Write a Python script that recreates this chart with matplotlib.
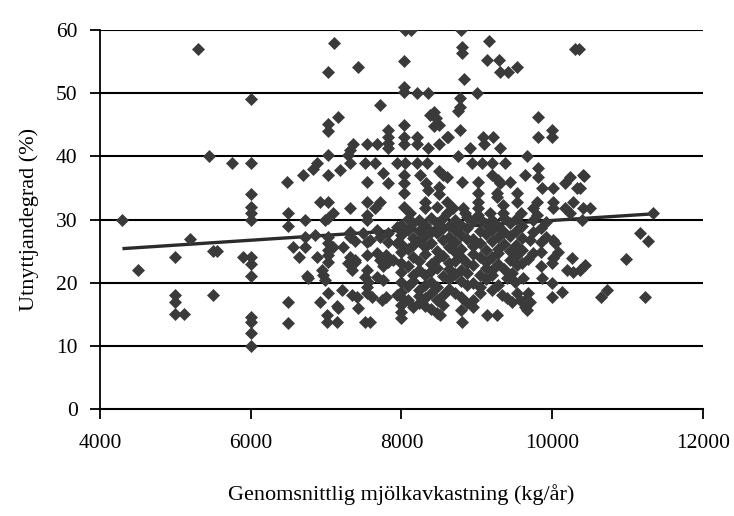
import matplotlib
matplotlib.use("Agg")
import matplotlib.pyplot as plt
import numpy as np

# scattered farms
outer_x = [4300, 4500, 5000, 5000, 5000, 5000, 5120, 5200, 5300, 5450, 5500, 5560, 5500, 5750, 5900,
           6000, 6000, 6000, 6000, 6000, 6000, 6000, 6000, 6000, 6000, 6000, 6000, 6000,
           6480, 6490, 6490, 6700, 6720, 6560, 6720, 6640, 6750, 6490, 6490, 6720,
           7100, 7030, 7420, 7710, 7160, 7030, 7030, 7820, 7820, 7820, 7820, 7360, 7320, 7290, 7540,
           7670, 7030, 7320, 6880, 6830, 7030, 7180, 7510, 7650, 7940, 7750, 7820, 7540, 6920, 7030,
           7320, 7540, 7710, 7650, 7090, 7540, 7540, 7030, 6980,
           6850, 7030, 7030, 7030, 7090, 7220, 7320, 7380, 7490, 7580, 7670, 7710, 7320, 6880, 7030,
           7030, 7320, 7380, 7290, 7540, 7670, 7820, 7750, 6940, 6960, 6980, 6760, 7340, 7540, 7510,
           7550, 7670, 7750, 7030, 6920, 7210, 7340, 7410, 7540, 7610, 7740, 7800, 7940, 7160, 7420,
           7010, 7010, 7140, 7510, 7580, 7540, 7540, 7380, 7710, 7800, 7890, 7820, 7820, 7940, 7940, 7140,
           8050, 8120, 8030, 8030, 8030, 8200, 8350, 8030, 8030, 8030, 8200, 8200, 8380, 8430, 8460,
           8500, 8430, 8600, 8350, 8500, 8050, 8200, 8340, 8030, 8030, 8240, 8330, 8350, 8500, 8550,
           8500, 8500, 8030, 8030, 8110, 8310, 8310, 8470, 8600, 8600, 8680, 8810, 8840,
           8790, 9160, 8800, 8800, 9130, 9290, 9310, 9410, 9530, 8830, 9000, 8770, 8770, 8750, 8770,
           8620, 9080, 9210, 9100, 8910, 9310, 9810, 9810, 9990, 9990, 8750, 9660, 8930, 9070, 9200,
           9370, 8600, 9200, 9280, 9310, 9640, 9810, 9810, 10230, 10170, 10400, 8800, 9010, 9440, 9860,
           10010, 10330, 9270, 9270, 9010, 9010, 9010, 9010, 9530, 9530, 9350, 9350, 9170, 9800, 9740,
           10010, 10010, 10270, 10170, 10400, 9580, 9800, 10240, 10300, 10350, 10420, 10370, 10500, 10390,
           11330, 11160, 11270, 10980, 10430, 10370, 10650, 10720, 11230,
           10010, 10070, 10010, 9990, 10260, 10190, 10270, 9860, 9990, 10130, 10000, 9700, 9750, 9680,
           9530, 9460, 9400, 9500, 9610, 9680, 9640, 9660, 9330, 9400, 9460, 9530, 9570, 9640, 9700,
           9130, 9260, 8800, 8510, 10030]
outer_y = [30, 22, 24, 18, 17, 15, 15, 27, 57, 40, 25, 25, 18, 39, 24,
           49, 39, 34, 32, 31, 30, 24, 23, 21, 14.6, 13.8, 12, 10,
           36, 31, 29, 37, 30, 25.7, 25.7, 24, 21, 17, 13.7, 27.2,
           58, 53.3, 54.1, 48.1, 46.2, 45.1, 44, 44.2, 43, 42.1, 41.3, 42, 41, 40.2, 42,
           42, 40.2, 39, 39, 38, 37, 37.8, 39, 39, 39, 37.4, 35.8, 36, 32.8, 32.8,
           31.8, 32.8, 32.8, 31.8, 31, 30.7, 30, 30.2, 30,
           27.5, 27.2, 26.3, 25.2, 25.7, 25.7, 27.2, 26.6, 27.9, 26.8, 28.3, 27.2, 28, 24.1, 24.4,
           23.3, 24, 23.3, 23.1, 24.4, 24.7, 23.3, 22.6, 22, 21.2, 20.4, 20.7, 22, 22, 20.9,
           20.1, 20.9, 20.4, 18.4, 16.9, 18.8, 18, 17.7, 18.4, 17.7, 17.3, 17.7, 18, 16, 16,
           14.9, 13.8, 13.8, 13.8, 13.8, 26.4, 19.3, 23.6, 23.6, 24.4, 23.6, 26.4, 27.9, 28.8, 26.3, 16.3,
           60, 60, 55.1, 51, 50.2, 50, 50, 45, 43, 42, 43, 42, 46.5, 47, 46,
           45, 44.8, 43, 41.3, 42, 39, 39, 39, 37, 35.8, 37, 35.8, 34.7, 37.7, 37,
           35.1, 34, 34.2, 32, 31, 32.8, 31.8, 32, 31, 32.8, 31.8, 31.8, 31,
           60, 58.2, 57.3, 56.4, 55.2, 55.2, 53.3, 53.3, 54.1, 52.2, 50, 49.2, 47.8, 47.2, 44.2,
           43, 43, 43, 42, 41.3, 41.3, 46.2, 43, 44.2, 43, 40, 40, 39, 39, 39,
           39, 36.7, 37, 36.2, 35.8, 37, 38.1, 36.7, 36.7, 35.8, 37, 36, 36, 36, 35,
           35, 35, 34.2, 33.6, 34.2, 32.8, 31.8, 30.7, 34.2, 32.8, 32.3, 31, 31, 32.8, 31.8,
           32.8, 31.8, 32.8, 31.8, 31.8, 31, 30.7, 31, 57, 57, 36.9, 35, 31.8, 30,
           31, 27.9, 26.6, 23.7, 22.8, 22, 17.7, 18.8, 17.7,
           26.7, 24.8, 23.9, 23.1, 23.9, 22, 21.7, 20.7, 19.9, 18.5, 17.7, 26.7, 24.7, 23.8,
           22.8, 21.5, 20.7, 20.1, 20.7, 18.4, 17.3, 15.7, 18, 17.6, 16.9, 18.4, 17.3, 16.1, 16.9,
           14.9, 14.9, 13.8, 14.9, 26.3]

# dense core of the cloud, one column per x
core_x = [8000, 8080, 8150, 8230, 8310, 8390, 8470, 8550, 8630, 8710, 8790, 8870,
          8950, 9040, 9120, 9200, 9280, 9360, 9440, 9520, 9600, 9750, 9850, 9920]
core_y = [[29.2, 27.6, 26.1, 24.8, 23.2, 21.7, 20.1, 18.6, 17.7, 16.5, 15.4, 14.4],
          [30.1, 28.4, 25.3, 22.6, 19.5, 17.3],
          [29.5, 27.1, 25.9, 24.1, 21.2, 20.3, 16.2],
          [30.0, 28.2, 26.6, 23.4, 22.0, 18.9, 17.9, 16.8],
          [29.1, 27.4, 25.6, 24.5, 21.3, 19.7, 17.6, 16.4],
          [30.3, 28.1, 26.3, 22.9, 21.9, 20.2, 18.4, 15.8],
          [29.4, 27.8, 25.1, 23.7, 22.4, 19.4, 17.3, 15.2],
          [30.2, 28.6, 26.8, 24.3, 21.0, 18.1, 16.5],
          [29.0, 27.2, 25.7, 23.1, 22.1, 20.6, 19.0],
          [30.0, 28.3, 26.4, 24.9, 23.5, 21.4, 18.4],
          [29.2, 27.5, 25.4, 24.0, 22.0, 20.3, 17.7, 15.7],
          [30.4, 28.7, 26.9, 23.2, 21.6, 19.6, 16.8],
          [29.7, 27.0, 25.8, 24.6, 22.8, 20.0, 17.3, 16.1],
          [30.1, 28.2, 26.3, 24.0, 21.2, 19.3, 18.4],
          [29.3, 27.7, 25.2, 23.3, 22.3, 20.6],
          [30.0, 28.4, 26.6, 24.0, 22.0, 21.2, 18.8],
          [29.0, 27.2, 25.4, 24.7, 23.0, 19.7],
          [30.2, 28.0, 26.2, 22.2],
          [29.4, 27.4, 25.0, 23.6],
          [30.1, 28.2, 26.0, 24.2],
          [29.0, 27.1, 25.2, 23.2],
          [29.9, 28.1],
          [28.7, 26.5, 24.9, 22.6],
          [29.6, 27.2]]

trend_x = [4300, 11330]
trend_y = [25.4, 30.9]

x_ticks = [4000, 6000, 8000, 10000, 12000]
y_ticks = [0, 10, 20, 30, 40, 50, 60]

xs = list(outer_x)
ys = list(outer_y)
for cx, col in zip(core_x, core_y):
    xs += [cx] * len(col)
    ys += col

plt.rcParams["font.family"] = ["Liberation Serif", "DejaVu Serif"]

fig = plt.figure(figsize=(7.34, 5.16), dpi=100)
ax = fig.add_axes([0.136, 0.207, 0.822, 0.735])

for yt in y_ticks[1:]:
    ax.axhline(yt, color="black", lw=1.5, zorder=1)

ax.plot(trend_x, trend_y, color="#2b2b2b", lw=2.4, zorder=2, solid_capstyle="butt")
ax.plot(xs, ys, linestyle="none", marker="D", markersize=6.4,
        color="#3a3a3a", markeredgecolor="#3a3a3a", markeredgewidth=0.5, zorder=3)

ax.set_xlim(4000, 12000)
ax.set_ylim(0, 60)
ax.set_xticks(x_ticks)
ax.set_yticks(y_ticks)

for side in ["top", "right"]:
    ax.spines[side].set_visible(False)
ax.spines["left"].set_linewidth(1.3)
ax.spines["bottom"].set_linewidth(1.5)

ax.tick_params(axis="x", direction="out", length=7, width=1.3, pad=11, labelsize=15.5)
ax.tick_params(axis="y", direction="out", length=7, width=1.3, pad=9, labelsize=15.5)

ax.set_xlabel("Genomsnittlig mjölkavkastning (kg/år)", fontsize=16, labelpad=22)
ax.set_ylabel("Utnyttjandegrad (%)", fontsize=16, labelpad=12)

fig.savefig("out.png", dpi=100)
